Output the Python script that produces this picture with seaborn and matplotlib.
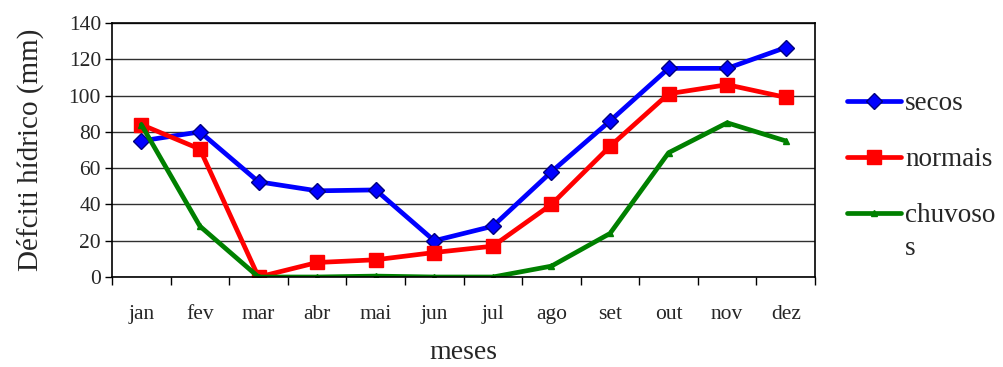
import pandas as pd
import matplotlib.pyplot as plt
import seaborn as sns
from matplotlib.ticker import FixedLocator

# monthly water deficit (mm)
meses = ['jan', 'fev', 'mar', 'abr', 'mai', 'jun', 'jul', 'ago', 'set', 'out', 'nov', 'dez']
secos = [75, 80, 52.5, 47.5, 48, 20, 28, 58, 86, 115, 115, 126.5]
normais = [84, 70.5, 0, 8, 9.5, 13.5, 17, 40, 72, 101, 106, 99]
chuvosos = [84, 28, 0, 0, 0.5, 0, 0, 6, 24, 68.5, 85, 75]

df = pd.DataFrame({'mes': meses, 'x': range(len(meses)),
                   'secos': secos, 'normais': normais, 'chuvosos': chuvosos})

sns.set_style('white')
plt.rcParams['font.family'] = ['Liberation Serif', 'DejaVu Serif']

fig = plt.figure(figsize=(10.04, 3.67), dpi=100)
ax = fig.add_axes([0.1116, 0.2452, 0.7002, 0.6921])

# series styles
estilos = [
    ('secos', 'secos', '#0000ff', 'D', 8.5, '#000080'),
    ('normais', 'normais', '#ff0000', 's', 10, '#ff0000'),
    ('chuvosos', 'chuvoso', '#008000', '^', 4, '#008000'),
]
for col, lab, cor, mk, ms, ec in estilos:
    sns.lineplot(data=df, x='x', y=col, ax=ax, color=cor, linewidth=3.4,
                 marker=mk, markersize=ms, markeredgecolor=ec,
                 markeredgewidth=1, label=lab)

ax.set_xlim(-0.5, 11.5)
ax.set_ylim(0, 140)
ax.set_yticks(range(0, 141, 20))
ax.yaxis.grid(True, color='#303030', linewidth=1)
ax.set_axisbelow(True)

ax.set_xticks(range(12))
ax.set_xticklabels(meses)
ax.xaxis.set_minor_locator(FixedLocator([i - 0.5 for i in range(13)]))
ax.tick_params(axis='x', which='major', length=0, pad=20, labelsize=15.5)
ax.tick_params(axis='x', which='minor', length=6, width=1, color='black', direction='out', bottom=True)
ax.tick_params(axis='y', length=5, width=1, color='black', direction='out', left=True, labelsize=15.5, pad=3)

for s in ax.spines.values():
    s.set_color('black')
    s.set_linewidth(1.2)

ax.set_xlabel('meses', fontsize=20, labelpad=12)
ax.set_ylabel('Défciti hídrico (mm)', fontsize=21, labelpad=18)

leg = ax.legend(loc='upper left', bbox_to_anchor=(1.03, 0.775), frameon=False,
                fontsize=19.5, handlelength=2.0, handletextpad=0.15,
                labelspacing=1.15, borderaxespad=0)

# wrapped tail of the last legend label, as in the original
fig.canvas.draw()
bb = leg.get_texts()[2].get_window_extent()
inv = fig.transFigure.inverted()
x0, y0 = inv.transform((bb.x0, bb.y0))
fig.text(x0, y0 - 0.02, 's', fontsize=19.5, ha='left', va='top')

fig.savefig('out.png', dpi=100)
